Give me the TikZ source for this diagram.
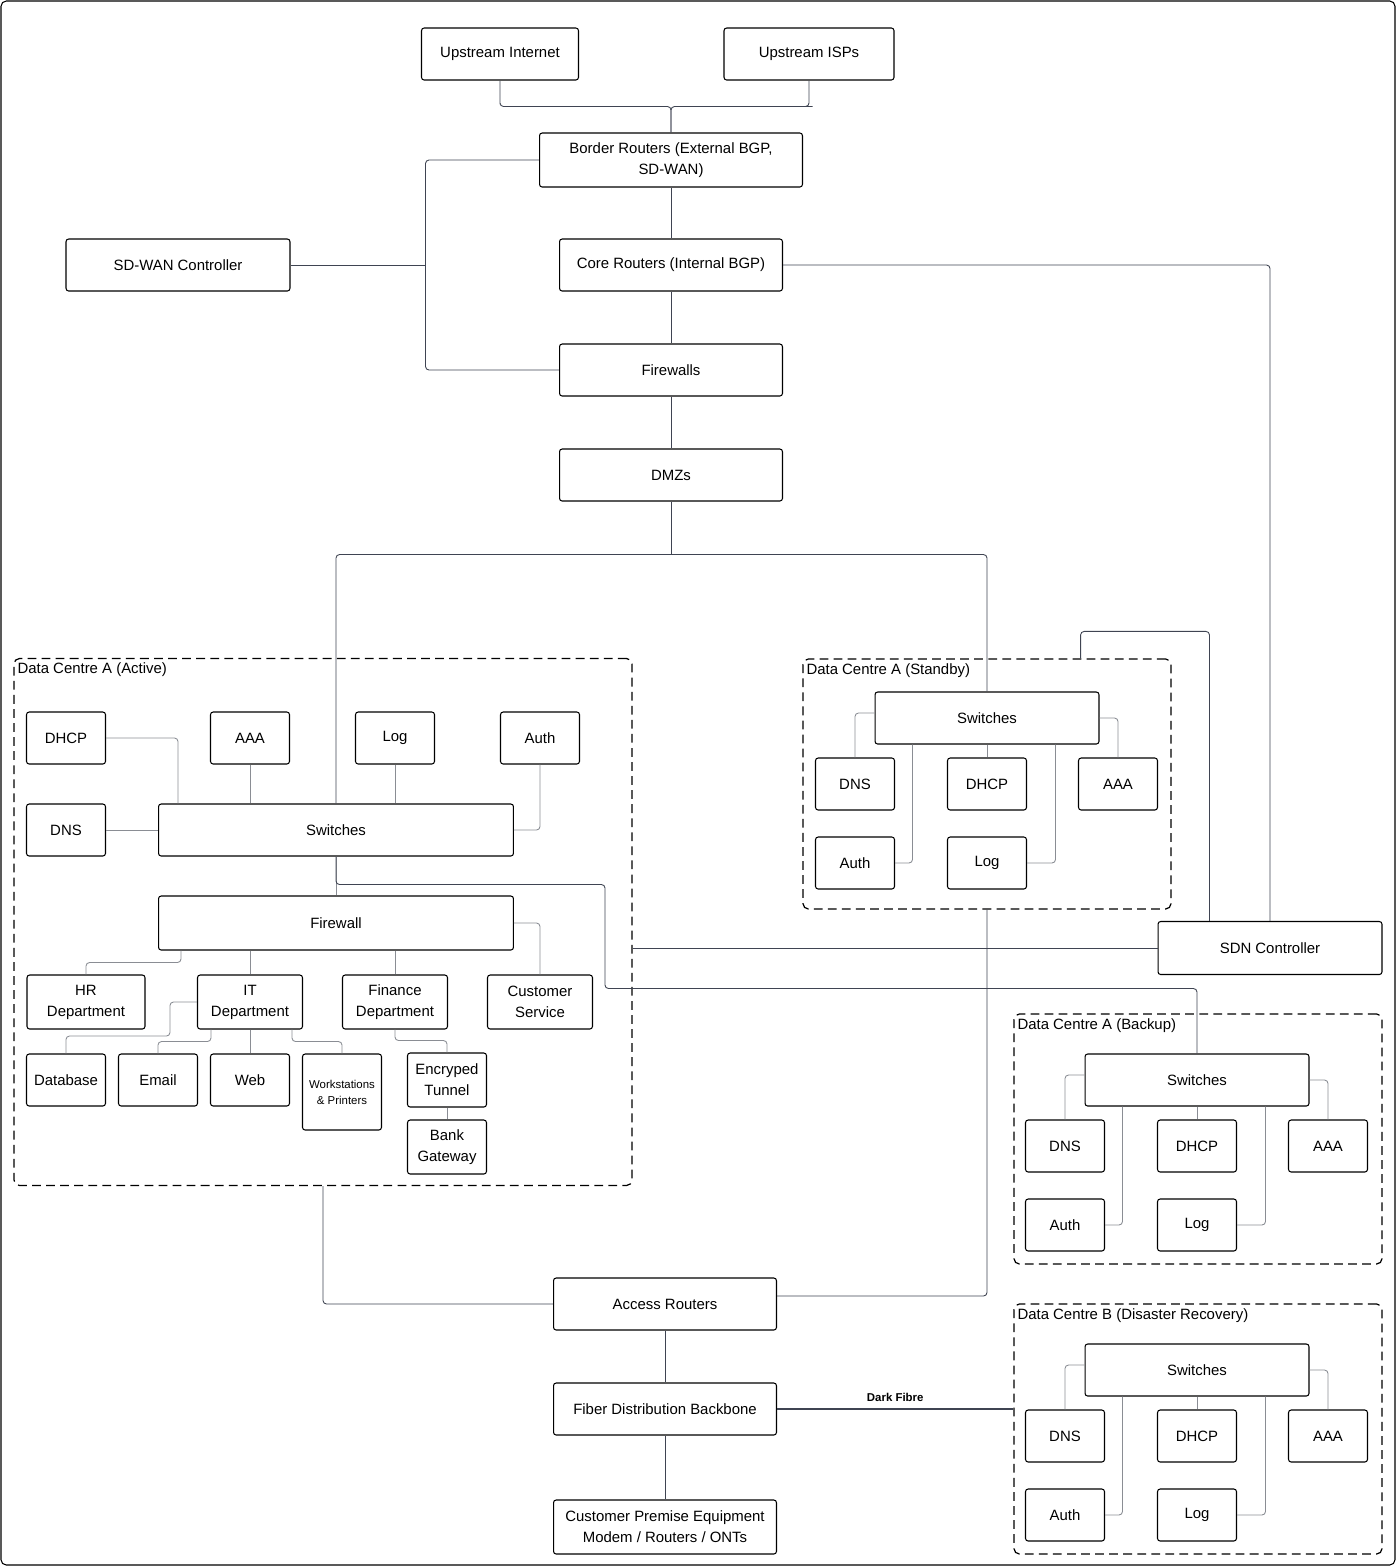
\documentclass[tikz,border=0pt]{standalone}
\usepackage{fontspec}
\setmainfont{Liberation Sans}
\usetikzlibrary{calc}
\definecolor{linkgray}{HTML}{3F4452}
\definecolor{thingray}{HTML}{8A8D94}
\begin{document}
\begin{tikzpicture}[x=0.02cm,y=-0.02cm,
  netbox/.style={rectangle, draw, line width=0.6pt, fill=white, rounded corners=1.5pt, minimum height=1.04cm, minimum width=1.58cm, align=center, font=\fontsize{8.5}{12}\selectfont, inner sep=1pt},
  zone/.style={draw, dash pattern=on 5pt off 3pt, rounded corners=3pt, line width=0.7pt},
  link/.style={draw=linkgray, line width=0.5pt, rounded corners=2pt},
  thinlink/.style={draw=thingray, line width=0.5pt, rounded corners=2pt},
  zonelabel/.style={anchor=north west, inner sep=1pt, font=\fontsize{8.5}{10}\selectfont}
]
\useasboundingbox (0,0) rectangle (1396,1566);
\draw[line width=0.6pt, rounded corners=3pt] (1,1) rectangle (1395,1565);

% Zones
\node[zone, minimum width=12.36cm, minimum height=10.54cm] (actzone) at (323,922) {};
\node[zone, minimum width=7.36cm, minimum height=5cm] (st-zone) at (987,784) {};
\node[zone, minimum width=7.36cm, minimum height=5cm] (bk-zone) at (1198,1139) {};
\node[zone, minimum width=7.36cm, minimum height=5cm] (dr-zone) at (1198,1429) {};
\node[zonelabel] at ($(actzone.north west)+(2,3)$) {Data Centre A (Active)};
\node[zonelabel] at ($(st-zone.north west)+(2,3)$) {Data Centre A (Standby)};
\node[zonelabel] at ($(bk-zone.north west)+(2,3)$) {Data Centre A (Backup)};
\node[zonelabel] at ($(dr-zone.north west)+(2,3)$) {Data Centre B (Disaster Recovery)};

% Core chain
\node[netbox, minimum width=3.14cm] (upi) at (500,54) {Upstream Internet};
\node[netbox, minimum width=3.4cm] (isp) at (809,54) {Upstream ISPs};
\node[netbox, minimum width=5.26cm, minimum height=1.08cm] (bgp) at (671,160) {Border Routers (External BGP,\\SD-WAN)};
\node[netbox, minimum width=4.48cm] (sdwan) at (178,265) {SD-WAN Controller};
\node[netbox, minimum width=4.46cm] (core) at (671,265) {Core Routers (Internal BGP)};
\node[netbox, minimum width=4.46cm] (fw) at (671,370) {Firewalls};
\node[netbox, minimum width=4.46cm] (dmz) at (671,475) {DMZs};
\node[netbox, minimum width=4.48cm, minimum height=1.06cm] (sdn) at (1270,948) {SDN Controller};
\node[netbox, minimum width=4.46cm] (acc) at (665,1304) {Access Routers};
\node[netbox, minimum width=4.46cm] (fib) at (665,1409) {Fiber Distribution Backbone};
\node[netbox, minimum width=4.46cm, minimum height=1.08cm] (cpe) at (665,1527) {Customer Premise Equipment\\Modem / Routers / ONTs};

% Active data centre
\node[netbox] (dhcpA) at (66,738) {DHCP};
\node[netbox] (aaaA) at (250,738) {AAA};
\node[netbox] (logA) at (395,738) {Log};
\node[netbox] (authA) at (540,738) {Auth};
\node[netbox] (dnsA) at (66,830) {DNS};
\node[netbox, minimum width=7.1cm] (swA) at (336,830) {Switches};
\node[netbox, minimum width=7.1cm, minimum height=1.08cm] (fwA) at (336,923) {Firewall};
\node[netbox, minimum width=2.36cm, minimum height=1.08cm] (hr) at (86,1002) {HR\\Department};
\node[netbox, minimum width=2.1cm, minimum height=1.08cm] (it) at (250,1002) {IT\\Department};
\node[netbox, minimum width=2.1cm, minimum height=1.08cm] (fin) at (395,1002) {Finance\\Department};
\node[netbox, minimum width=2.1cm, minimum height=1.08cm] (cs) at (540,1002) {Customer\\Service};
\node[netbox] (db) at (66,1080) {Database};
\node[netbox] (email) at (158,1080) {Email};
\node[netbox] (web) at (250,1080) {Web};
\node[netbox, minimum height=1.52cm, font=\fontsize{6.5}{9}\selectfont] (ws) at (342,1092) {Workstations\\\& Printers};
\node[netbox, minimum height=1.08cm] (enc) at (447,1080) {Encryped\\Tunnel};
\node[netbox, minimum height=1.08cm] (bank) at (447,1147) {Bank\\Gateway};

% Standby, backup and recovery data centres
\foreach \dc/\cx/\cy in {st/987/718, bk/1197/1080, dr/1197/1370}{
  \node[netbox, minimum width=4.48cm] (\dc-sw) at (\cx,\cy) {Switches};
  \node[netbox] (\dc-dns) at (\cx-132,\cy+66) {DNS};
  \node[netbox] (\dc-dhcp) at (\cx,\cy+66) {DHCP};
  \node[netbox] (\dc-aaa) at (\cx+131,\cy+66) {AAA};
  \node[netbox] (\dc-auth) at (\cx-132,\cy+145) {Auth};
  \node[netbox] (\dc-log) at (\cx,\cy+145) {Log};
  \draw[thinlink] ($(\dc-sw.west)+(0,-5)$) -| (\dc-dns.north);
  \draw[thinlink] (\dc-sw.south) -- (\dc-dhcp.north);
  \draw[thinlink] (\dc-sw.east) -| (\dc-aaa.north);
  \draw[thinlink] (\dc-auth.east) -| ($(\dc-sw.south west)+(38,0)$);
  \draw[thinlink] (\dc-log.east) -| ($(\dc-sw.south east)+(-44,0)$);
}

% Links
\draw[link] (upi.south) |- ($(upi.south)!.5!(upi.south |- bgp.north)$) -| (bgp.north);
\draw[link] (isp.south) |- ($(isp.south)!.5!(isp.south |- bgp.north)$) -| (bgp.north);
\draw[link] (bgp) -- (core);
\draw[link] (core) -- (fw);
\draw[link] (fw) -- (dmz);
\draw[link] (bgp.west) -| ($(sdwan.east)+(135,0)$) |- (fw.west);
\draw[link] (sdwan.east) -- ++(135,0);
\draw[link] (core.east) -| (sdn.north);
\draw[link] (dmz.south) -- ++(0,53) coordinate (dmzsplit);
\draw[link] (dmzsplit) -| (swA.north);
\draw[link] (dmzsplit) -| (st-sw.north);

\draw[thinlink] (dhcpA.east) -| ($(swA.north west)+(20,0)$);
\draw[thinlink] (aaaA.south) -- (aaaA.south |- swA.north);
\draw[thinlink] (logA.south) -- (logA.south |- swA.north);
\draw[thinlink] (authA.south) |- (swA.east);
\draw[thinlink] (dnsA.east) -- (swA.west);
\draw[thinlink] (swA.south) -- (fwA.north);
\draw[link] (swA.south) -- ++(0,28) -- ++(269,0) -- ++(0,104) -| (bk-sw.north);
\draw[thinlink] ($(fwA.south west)+(23,0)$) -- ++(0,12) -| (hr.north);
\draw[thinlink] (it.north |- fwA.south) -- (it.north);
\draw[thinlink] (fin.north |- fwA.south) -- (fin.north);
\draw[thinlink] (fwA.east) -| (cs.north);
\draw[thinlink] (it.west) -- ++(-27,0) -- ++(0,34) -| (db.north);
\draw[thinlink] ($(it.south west)+(14,0)$) -- ++(0,12) -| (email.north);
\draw[thinlink] (it.south) -- (web.north);
\draw[thinlink] ($(it.south east)+(-11,0)$) -- ++(0,12) -| (ws.north);
\draw[thinlink] (fin.south) -- ++(0,11) -| (enc.north);
\draw[thinlink] (enc.south) -- (bank.north);

\draw[link] (actzone.south) |- (acc.west);
\draw[link] (st-zone.south) |- ($(acc.east)+(0,-8)$);
\draw[link] ($(st-zone.north east)+(-91,0)$) -- ++(0,-27) -| ($(sdn.north west)+(52,0)$);
\draw[link] (sdn.west) -- (sdn.west -| actzone.east);
\draw[link] (acc) -- (fib);
\draw[link] (fib) -- (cpe);
\draw[link, line width=1.2pt] (fib.east) -- (fib.east -| dr-zone.west)
  node[midway, above, font=\fontsize{6.5}{8}\selectfont\bfseries] {Dark Fibre};
\end{tikzpicture}
\end{document}
